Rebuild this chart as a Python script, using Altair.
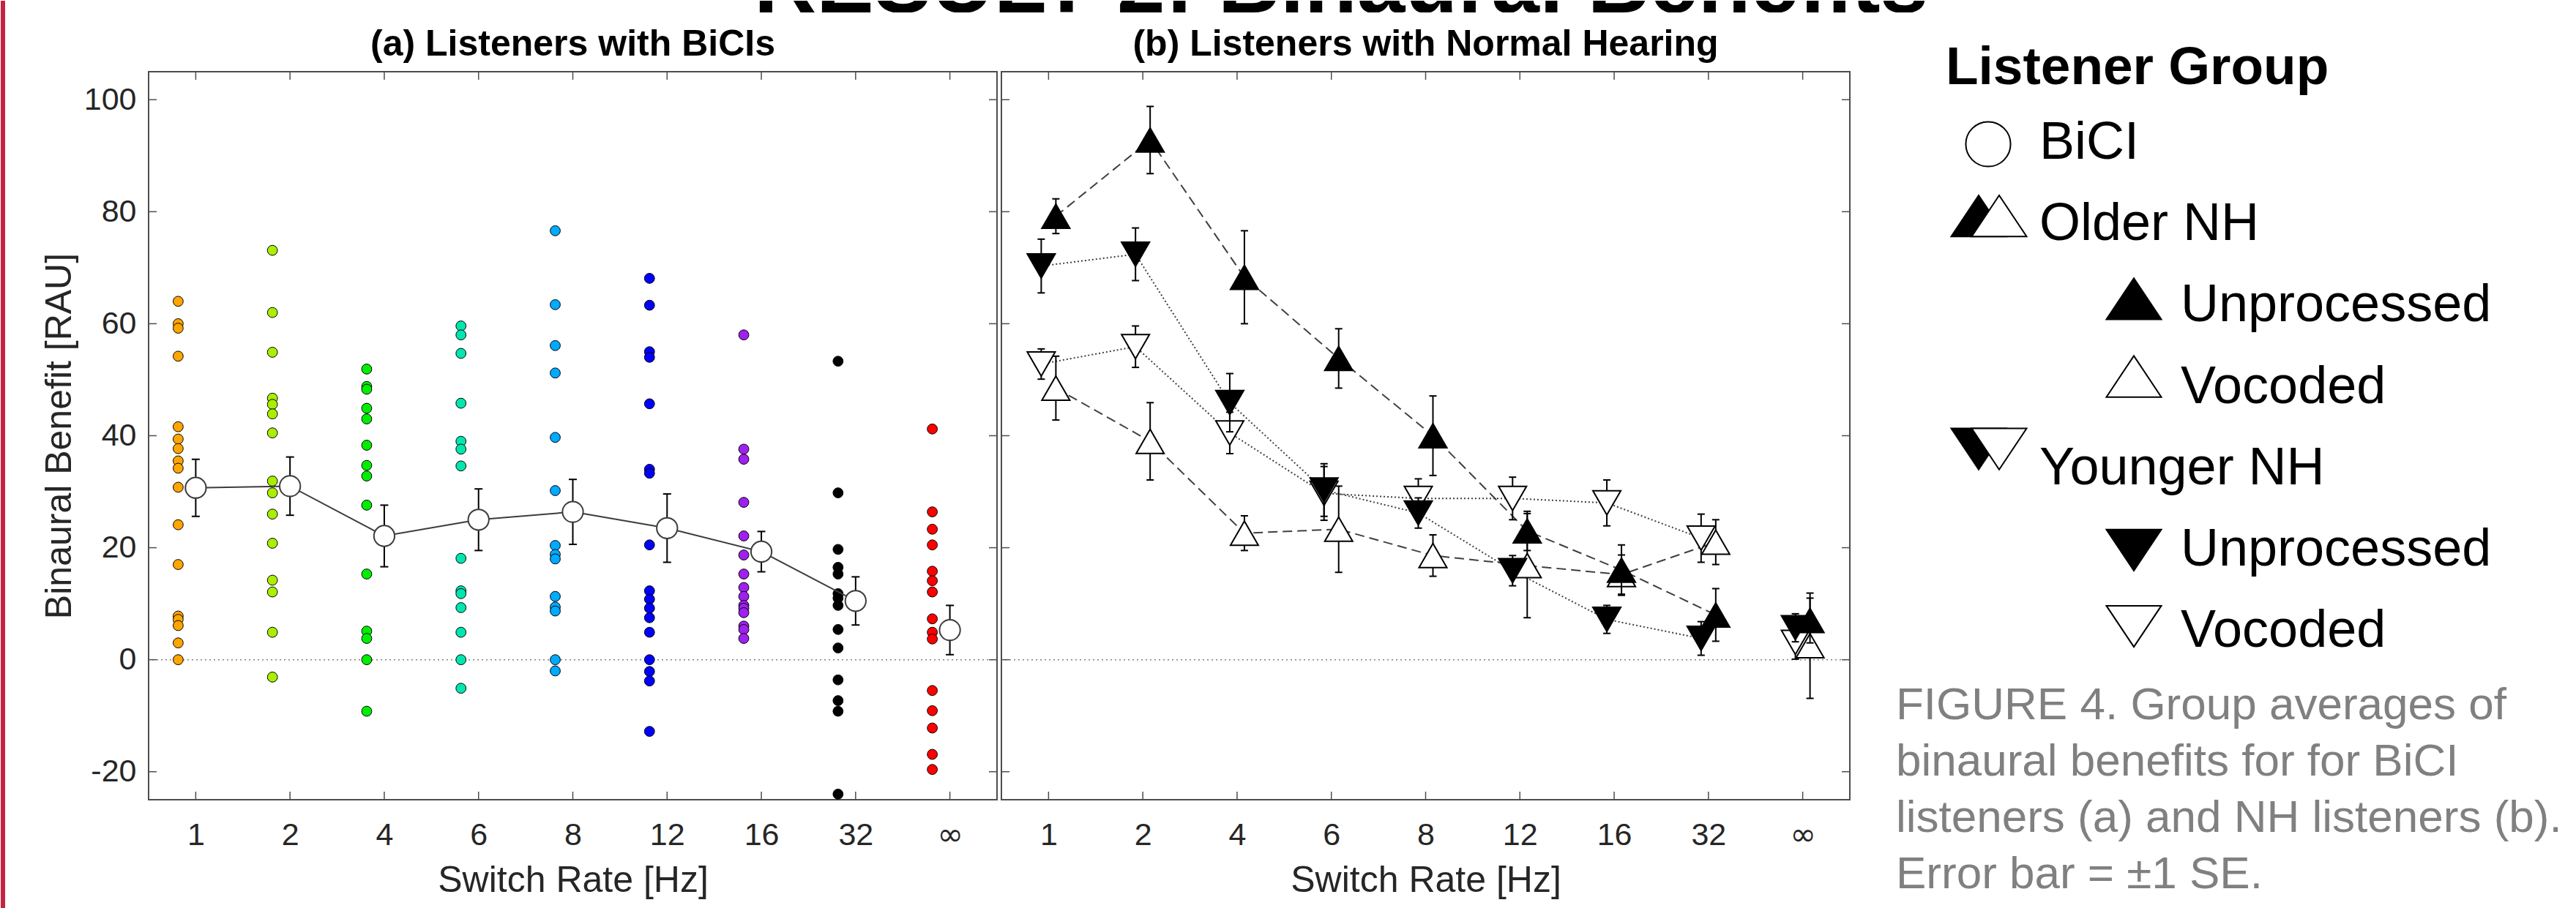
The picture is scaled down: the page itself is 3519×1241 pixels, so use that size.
import json
import pandas as pd
import altair as alt

FONT = "Liberation Sans"
TXT = "#262626"
AX = "#4d4d4d"

# ---------------- data ----------------
rate_labels = ["1", "2", "4", "6", "8", "12", "16", "32", "∞"]
rate_index = [1, 2, 3, 4, 5, 6, 7, 8, 9]
rate_colors = ["#FFA500", "#AAEE00", "#00EE00", "#00E6B0", "#00AAFF",
               "#0000FF", "#A020F0", "#000000", "#FF0000"]

pts_1 = [64.0, 60.0, 59.2, 54.2, 41.6, 39.4, 37.7, 35.5, 34.2, 30.8, 24.1, 17.0, 7.8, 7.2, 6.1, 3.0, 0.0]
pts_2 = [73.1, 62.0, 54.9, 46.7, 45.6, 43.9, 40.5, 31.9, 29.8, 26.0, 20.8, 14.2, 12.1, 4.9, -3.1]
pts_4 = [51.9, 48.8, 48.3, 44.9, 43.0, 38.3, 34.7, 32.8, 27.6, 15.3, 5.1, 3.8, 0.0, -9.2]
pts_6 = [59.6, 58.0, 54.7, 45.8, 39.0, 37.6, 34.6, 18.1, 12.3, 11.8, 9.3, 4.9, 0.0, -5.1]
pts_8 = [76.6, 63.4, 56.1, 51.2, 39.7, 30.2, 20.4, 18.8, 18.0, 11.3, 9.4, 8.7, 0.0, -2.0]
pts_12 = [68.1, 63.3, 55.0, 54.0, 45.7, 34.0, 33.3, 20.5, 12.3, 10.8, 9.2, 7.5, 4.9, 0.0, -2.1, -3.8, -12.8]
pts_16 = [58.0, 37.6, 35.8, 28.1, 22.1, 18.7, 15.3, 12.9, 11.3, 9.7, 9.2, 8.4, 6.0, 5.4, 3.8]
pts_32 = [53.3, 29.8, 19.7, 16.5, 15.3, 11.8, 11.0, 9.7, 5.4, 2.1, -3.6, -7.3, -9.2, -24.0]
pts_inf = [41.2, 26.4, 23.3, 20.5, 15.8, 14.1, 12.1, 7.3, 4.9, 3.7, -5.5, -9.1, -12.2, -16.9, -19.6]
bici_points = [pts_1, pts_2, pts_4, pts_6, pts_8, pts_12, pts_16, pts_32, pts_inf]

bici_mean = [30.7, 31.0, 22.1, 25.0, 26.4, 23.5, 19.3, 10.5, 5.3]
bici_se = [5.1, 5.2, 5.5, 5.5, 5.8, 6.1, 3.6, 4.3, 4.4]

older_unproc_mean = [79.2, 92.8, 68.3, 53.8, 40.0, 23.0, 16.0, 8.0, 7.0]
older_unproc_se = [3.1, 6.0, 8.3, 5.3, 7.1, 3.5, 4.5, 4.7, 4.0]
older_voc_mean = [48.5, 39.0, 22.6, 23.3, 18.6, 16.8, 15.2, 21.0, 2.5]
older_voc_se = [5.7, 6.9, 3.1, 7.7, 3.7, 9.3, 3.5, 4.0, 9.4]
younger_unproc_mean = [70.3, 72.4, 45.9, 30.3, 26.2, 15.9, 7.2, 3.8, 5.7]
younger_unproc_se = [4.8, 4.7, 5.2, 4.7, 2.7, 2.7, 2.5, 3.0, 2.5]
younger_voc_mean = [52.8, 55.9, 40.5, 29.7, 28.8, 28.8, 28.0, 21.7, 3.1]
younger_voc_se = [2.7, 3.7, 3.7, 4.8, 3.5, 3.8, 4.1, 4.3, 3.0]

# the connecting lines run through the finite switch rates only (not to ∞)
line_rate_count = 8

y_ticks = [-20, 0, 20, 40, 60, 80, 100]

main_title = "RESULT 2: Binaural Benefits"
panel_titles = ["(a) Listeners with BiCIs", "(b) Listeners with Normal Hearing"]
x_title = "Switch Rate [Hz]"
y_title = "Binaural Benefit [RAU]"
legend_header = "Listener Group"
legend_labels = ["BiCI", "Older NH", "Unprocessed", "Vocoded", "Younger NH", "Unprocessed", "Vocoded"]
legend_levels = [0, 0, 1, 1, 0, 1, 1]
caption_lines = ["FIGURE 4. Group averages of",
                 "binaural benefits for for BiCI",
                 "listeners (a) and NH listeners (b).",
                 "Error bar = \u00b11 SE."]

# ---------------- layout / style ----------------
W, H = 1159, 995
WL = 960
TICK = 11

xscale = alt.Scale(domain=[0.5, 9.5], nice=False, zero=False)
yscale = alt.Scale(domain=[-25, 105], nice=False, zero=False)

label_expr = json.dumps(rate_labels, ensure_ascii=False) + "[datum.value - 1]"

x_axis = alt.Axis(values=rate_index, labelExpr=label_expr, title=x_title,
                  ticks=False, tickSize=0, domain=False, grid=False,
                  labelFontSize=43, labelColor=TXT, labelPadding=27,
                  labelFont={"condition": {"test": "datum.value == 9", "value": "DejaVu Sans"},
                             "value": FONT},
                  labelFlush=False, labelOverlap=False,
                  titleFontSize=50, titleColor=TXT, titleFontWeight="normal",
                  titlePadding=15)
y_axis = alt.Axis(values=y_ticks, labelExpr="'' + datum.value", title=y_title,
                  ticks=False, tickSize=0, domain=False, grid=False,
                  labelFontSize=43, labelColor=TXT, labelPadding=17,
                  titleFontSize=50, titleColor=TXT, titleFontWeight="normal",
                  titlePadding=8)


def X(field):
    return alt.X(field, type="quantitative", scale=xscale, axis=x_axis)


def Y(field, yax):
    return alt.Y(field, type="quantitative", scale=yscale, axis=yax)


def frame_layers(yax, title_text):
    xt = pd.DataFrame({"idx": rate_index})
    yt = pd.DataFrame({"v": y_ticks})
    zero = alt.Chart(pd.DataFrame({"v": [0]})).mark_rule(
        color="#808080", strokeDash=[2, 4], strokeWidth=1.5).encode(y=Y("v", yax))
    top = alt.Chart(xt).mark_rule(color=AX, strokeWidth=1.5).encode(
        x=X("idx"), y=alt.value(0), y2=alt.value(TICK))
    bot = alt.Chart(xt).mark_rule(color=AX, strokeWidth=1.5).encode(
        x=X("idx"), y=alt.value(H - TICK), y2=alt.value(H))
    left = alt.Chart(yt).mark_rule(color=AX, strokeWidth=1.5).encode(
        y=Y("v", yax), x=alt.value(0), x2=alt.value(TICK))
    right = alt.Chart(yt).mark_rule(color=AX, strokeWidth=1.5).encode(
        y=Y("v", yax), x=alt.value(W - TICK), x2=alt.value(W))
    ttl = alt.Chart(pd.DataFrame({"t": [title_text]})).mark_text(
        align="center", baseline="alphabetic", fontSize=50, fontWeight="bold",
        color="black").encode(x=alt.value(W / 2), y=alt.value(-22), text="t:N")
    return [zero, top, bot, left, right, ttl]


def errorbar(df, yax, xoff, cap):
    bar = alt.Chart(df).mark_rule(color="black", strokeWidth=2, xOffset=xoff).encode(
        x=X("idx"), y=Y("lo", yax), y2=alt.Y2("hi"))
    lo = alt.Chart(df).mark_tick(orient="horizontal", size=cap, thickness=2,
                                 color="black", opacity=1, xOffset=xoff).encode(
        x=X("idx"), y=Y("lo", yax))
    hi = alt.Chart(df).mark_tick(orient="horizontal", size=cap, thickness=2,
                                 color="black", opacity=1, xOffset=xoff).encode(
        x=X("idx"), y=Y("hi", yax))
    return [bar, lo, hi]


def mean_df(means, ses):
    return pd.DataFrame({"idx": rate_index, "mean": means,
                         "lo": [m - s for m, s in zip(means, ses)],
                         "hi": [m + s for m, s in zip(means, ses)]})


# ---------------- panel (a) ----------------
rows = []
for lab, idx, vals in zip(rate_labels, rate_index, bici_points):
    for v in vals:
        rows.append({"idx": idx, "rate": lab, "value": v})
df_pts = pd.DataFrame(rows)
df_bici = mean_df(bici_mean, bici_se)

points = alt.Chart(df_pts).mark_circle(
    size=190, stroke="black", strokeWidth=1, opacity=1, xOffset=-24).encode(
    x=X("idx"), y=Y("value", y_axis),
    fill=alt.Fill("rate:N", scale=alt.Scale(domain=rate_labels, range=rate_colors), legend=None))
bici_line = alt.Chart(df_bici.iloc[:line_rate_count]).mark_line(
    color="#3c3c3c", strokeWidth=2).encode(x=X("idx"), y=Y("mean", y_axis))
bici_circ = alt.Chart(df_bici).mark_point(
    shape="circle", size=800, filled=True, fill="white", stroke="#3c3c3c",
    strokeWidth=2, opacity=1).encode(x=X("idx"), y=Y("mean", y_axis))
red_bar = alt.Chart(pd.DataFrame({"k": [0]})).mark_rect(color="#C4243F").encode(
    x=alt.value(-202), x2=alt.value(-196), y=alt.value(-97), y2=alt.value(1144))

panel_a = alt.layer(
    *frame_layers(y_axis, panel_titles[0]), points,
    *errorbar(df_bici, y_axis, 0, 11), bici_line, bici_circ, red_bar
).properties(width=W, height=H, view=alt.ViewBackground(stroke=AX, strokeWidth=2))

# ---------------- panel (b) ----------------
series = [
    (older_voc_mean, older_voc_se, "triangle-up", "white", 10, [13, 7]),
    (younger_voc_mean, younger_voc_se, "triangle-down", "white", -10, [2, 3]),
    (older_unproc_mean, older_unproc_se, "triangle-up", "black", 10, [13, 7]),
    (younger_unproc_mean, younger_unproc_se, "triangle-down", "black", -10, [2, 3]),
]
line_layers, mark_layers = [], []
for means, ses, shape, fill, xoff, dash in series:
    d = mean_df(means, ses)
    line_layers.append(alt.Chart(d.iloc[:line_rate_count]).mark_line(
        color="#404040", strokeWidth=2, strokeDash=dash, xOffset=xoff).encode(
        x=X("idx"), y=Y("mean", None)))
    mark_layers += errorbar(d, None, xoff, 10)
    mark_layers.append(alt.Chart(d).mark_point(
        shape=shape, size=1450, filled=True, fill=fill, stroke="black",
        strokeWidth=2, opacity=1, xOffset=xoff).encode(x=X("idx"), y=Y("mean", None)))

panel_b = alt.layer(
    *frame_layers(None, panel_titles[1]), *line_layers, *mark_layers
).properties(width=W, height=H, view=alt.ViewBackground(stroke=AX, strokeWidth=2))

# ---------------- legend ----------------
df_leg = pd.DataFrame({"label": legend_labels, "level": legend_levels,
                       "row": list(range(len(legend_labels)))})
lx = alt.X("level:Q", scale=alt.Scale(domain=[0, 1], range=[253, 446]), axis=None)
ly = alt.Y("row:Q", scale=alt.Scale(domain=[0, 6], range=[97, 764]), axis=None)

TRI_UP = "M-1,0.75L1,0.75L0,-0.75Z"
TRI_DN = "M-1,-0.75L1,-0.75L0,0.75Z"


def sym(row, shape, fill, xoff, yoff, size=5625):
    d = df_leg[df_leg["row"] == row]
    return alt.Chart(d).mark_point(
        shape=shape, size=size, filled=True, fill=fill, stroke="black",
        strokeWidth=2, opacity=1, xOffset=xoff, yOffset=yoff).encode(x=lx, y=ly)


leg_syms = [
    sym(0, "circle", "white", -70, 2, size=3740),
    sym(1, TRI_UP, "black", -83, -11),
    sym(1, TRI_UP, "white", -55, -11),
    sym(2, TRI_UP, "black", -64, -9),
    sym(3, TRI_UP, "white", -64, -14),
    sym(4, TRI_DN, "black", -83, -26),
    sym(4, TRI_DN, "white", -55, -26),
    sym(5, TRI_DN, "black", -64, 1),
    sym(6, TRI_DN, "white", -64, -6),
]
leg_text = alt.Chart(df_leg).mark_text(
    align="left", baseline="middle", fontSize=72, color="black").encode(
    x=lx, y=ly, text="label:N")
leg_head = alt.Chart(pd.DataFrame({"t": [legend_header]})).mark_text(
    align="left", baseline="alphabetic", fontSize=73, fontWeight="bold", color="black").encode(
    x=alt.value(125), y=alt.value(17), text="t:N")
caption = alt.Chart(pd.DataFrame({"t": ["\n".join(caption_lines)]})).mark_text(
    align="left", baseline="alphabetic", fontSize=62, color="#808080",
    lineBreak="\n", lineHeight=77).encode(x=alt.value(57), y=alt.value(885), text="t:N")

legend = alt.layer(leg_head, *leg_syms, leg_text, caption).properties(width=WL, height=H)

# ---------------- title strip ----------------
title_view = alt.Chart(pd.DataFrame({"t": [main_title]})).mark_text(
    clip=True, align="center", baseline="alphabetic", fontSize=118,
    fontWeight="bold", color="black").encode(
    x=alt.value(1629), y=alt.value(16), text="t:N").properties(width=2600, height=16)

row = alt.hconcat(panel_a, panel_b, legend, spacing=6, bounds="flush")
chart = alt.vconcat(title_view, row, spacing=81, bounds="flush").properties(
    padding={"left": 0, "top": 0, "right": 0, "bottom": 0}
).configure(font=FONT).configure_view(strokeWidth=0)

chart.save("out.html", embed_options={"renderer": "svg", "actions": False})
